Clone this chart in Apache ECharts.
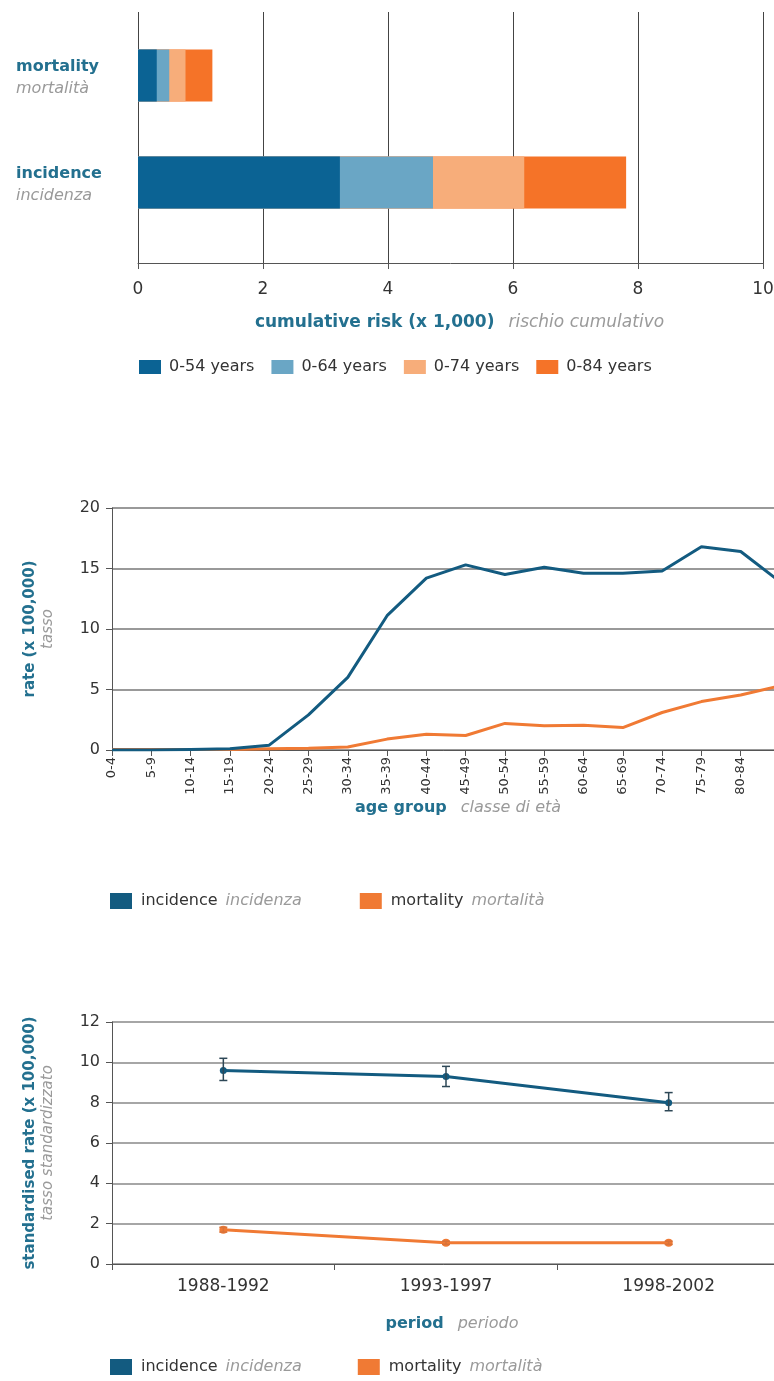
<!DOCTYPE html>
<html>
<head>
<meta charset="utf-8">
<script src="https://cdn.jsdelivr.net/npm/echarts@6/dist/echarts.min.js"></script>
<style>
html,body{margin:0;padding:0;background:#fff;overflow:hidden;}
#c{width:774px;height:1381px;}
</style>
</head>
<body>
<div id="c"></div>
<script>
// ---- Chart 1: cumulative risk ----
const riskCategories = ['mortality', 'incidence'];
const riskCategoriesIt = ['mortalità', 'incidenza'];
const riskSeriesNames = ['0-54 years', '0-64 years', '0-74 years', '0-84 years'];
const risk054 = [0.30, 3.23];
const risk064 = [0.50, 4.72];
const risk074 = [0.76, 6.18];
const risk084 = [1.19, 7.81];
const riskTicks = [0, 2, 4, 6, 8, 10];

// ---- Chart 2: age-specific rates ----
const ageGroups = ['0-4','5-9','10-14','15-19','20-24','25-29','30-34','35-39','40-44','45-49','50-54','55-59','60-64','65-69','70-74','75-79','80-84','85+'];
const ageIncidence = [0.0, 0.0, 0.05, 0.1, 0.4, 2.9, 6.0, 11.1, 14.2, 15.3, 14.5, 15.1, 14.6, 14.6, 14.8, 16.8, 16.4, 13.9];
const ageMortality = [0.05, 0.05, 0.05, 0.05, 0.1, 0.15, 0.25, 0.9, 1.3, 1.2, 2.2, 2.0, 2.05, 1.85, 3.1, 4.0, 4.55, 5.3];

// ---- Chart 3: standardised rates by period ----
const periods = ['1988-1992', '1993-1997', '1998-2002'];
const periodIncidence = [9.6, 9.3, 8.0];
const periodIncidenceLow = [9.1, 8.8, 7.6];
const periodIncidenceHigh = [10.2, 9.8, 8.5];
const periodMortality = [1.7, 1.05, 1.05];
const periodMortalityLow = [1.58, 0.97, 0.97];
const periodMortalityHigh = [1.82, 1.13, 1.13];

const C_DARK = '#0b6394';
const C_LBLUE = '#6aa6c5';
const C_LORANGE = '#f7ad7a';
const C_ORANGE = '#f57328';
const C_INC = '#135b80';
const C_MORT = '#f07a34';
const BLUE_TXT = '#23708f';
const GREY_TXT = '#9a9a9a';
const FONT = '"DejaVu Sans", "Liberation Sans", sans-serif';

function nameRich(size) {
  return {
    a: {color: BLUE_TXT, fontWeight: 'bold', fontSize: size, fontFamily: FONT},
    s: {width: 14},
    b: {color: GREY_TXT, fontStyle: 'italic', fontSize: size, fontFamily: FONT}
  };
}
const legendRich = {
  a: {color: '#333', fontSize: 16, fontFamily: FONT},
  s: {width: 8},
  b: {color: GREY_TXT, fontStyle: 'italic', fontSize: 16, fontFamily: FONT}
};
const yNameRich = {
  a: {color: BLUE_TXT, fontWeight: 'bold', fontSize: 15, lineHeight: 18, fontFamily: FONT},
  b: {color: GREY_TXT, fontStyle: 'italic', fontSize: 15, lineHeight: 18, fontFamily: FONT}
};

function errRender(color) {
  return function (params, api) {
    const x = api.value(0);
    const lo = api.coord([x, api.value(1)]);
    const hi = api.coord([x, api.value(2)]);
    const w = 4;
    const style = {stroke: color, lineWidth: 1.5};
    return {
      type: 'group',
      children: [
        {type: 'line', shape: {x1: lo[0], y1: lo[1], x2: hi[0], y2: hi[1]}, style: style},
        {type: 'line', shape: {x1: lo[0] - w, y1: lo[1], x2: lo[0] + w, y2: lo[1]}, style: style},
        {type: 'line', shape: {x1: hi[0] - w, y1: hi[1], x2: hi[0] + w, y2: hi[1]}, style: style}
      ]
    };
  };
}

const riskColors = [C_DARK, C_LBLUE, C_LORANGE, C_ORANGE];
const riskData = [risk054, risk064, risk074, risk084];

const barSeries = [];
for (let i = riskData.length - 1; i >= 0; i--) {
  barSeries.push({
    name: riskSeriesNames[i],
    type: 'bar',
    xAxisIndex: 1,
    yAxisIndex: 1,
    barWidth: 52,
    barGap: '-100%',
    itemStyle: {color: riskColors[i]},
    data: riskData[i],
    z: 10 + (riskData.length - i)
  });
}

function legendFmt(n) {
  return n === 'incidence' ? '{a|incidence}{s|}{b|incidenza}' : '{a|mortality}{s|}{b|mortalità}';
}

const option = {
  animation: false,
  backgroundColor: '#fff',
  textStyle: {fontFamily: FONT},
  grid: [
    {left: 138, right: 11, top: 12, height: 251, outerBoundsMode: 'none', containLabel: false},
    {left: 138, right: 11, top: 22, height: 214, outerBoundsMode: 'none', containLabel: false},
    {left: 112, width: 668, top: 508, height: 242, outerBoundsMode: 'none', containLabel: false},
    {left: 112, width: 668, top: 1022, height: 242, outerBoundsMode: 'none', containLabel: false}
  ],
  legend: [
    {
      data: riskSeriesNames,
      left: 139, top: 359, padding: 0,
      icon: 'rect', itemWidth: 22, itemHeight: 14, itemGap: 17,
      textStyle: {color: '#333', fontSize: 16, fontFamily: FONT, padding: [0, 0, 0, 3]},
      selectedMode: false
    },
    {
      data: ['incidence', 'mortality'],
      left: 110, top: 893, padding: 0,
      icon: 'rect', itemWidth: 22, itemHeight: 16, itemGap: 58,
      formatter: legendFmt,
      textStyle: {rich: legendRich, padding: [0, 0, 0, 4]},
      selectedMode: false
    },
    {
      data: ['incidence', 'mortality'],
      left: 110, top: 1359, padding: 0,
      icon: 'rect', itemWidth: 22, itemHeight: 16, itemGap: 56,
      formatter: legendFmt,
      textStyle: {rich: legendRich, padding: [0, 0, 0, 4]},
      selectedMode: false
    }
  ],
  xAxis: [
    {
      gridIndex: 0, type: 'value', min: riskTicks[0], max: riskTicks[riskTicks.length - 1], interval: 2,
      axisLine: {show: true, lineStyle: {color: '#555', width: 1}},
      axisTick: {show: true, length: 6, lineStyle: {color: '#555'}},
      splitLine: {show: true, lineStyle: {color: '#444', width: 1}},
      axisLabel: {color: '#333', fontSize: 17, margin: 18},
      name: '{a|cumulative risk (x 1,000)}{s|}{b|rischio cumulativo}',
      nameLocation: 'middle', nameGap: 51,
      nameTextStyle: {rich: nameRich(17), padding: [0, 0, 0, 18]}
    },
    {
      gridIndex: 1, type: 'value', min: riskTicks[0], max: riskTicks[riskTicks.length - 1], show: false
    },
    {
      gridIndex: 2, type: 'category', data: ageGroups, boundaryGap: false,
      axisLine: {show: true, lineStyle: {color: '#555', width: 1}},
      axisTick: {show: true, length: 6, lineStyle: {color: '#555'}},
      splitLine: {show: false},
      axisLabel: {color: '#333', fontSize: 13, rotate: 90, margin: 7, interval: 0},
      name: '{a|age group}{s|}{b|classe di età}',
      nameLocation: 'middle', nameGap: 50,
      nameTextStyle: {rich: nameRich(16), padding: [0, 0, 0, 24]}
    },
    {
      gridIndex: 3, type: 'category', data: periods, boundaryGap: true,
      axisLine: {show: true, lineStyle: {color: '#555', width: 1}},
      axisTick: {show: true, length: 6, lineStyle: {color: '#555'}},
      splitLine: {show: false},
      axisLabel: {color: '#333', fontSize: 17, margin: 14},
      name: '{a|period}{s|}{b|periodo}',
      nameLocation: 'middle', nameGap: 52,
      nameTextStyle: {rich: nameRich(16), padding: [0, 0, 0, 12]}
    }
  ],
  yAxis: [
    {gridIndex: 0, type: 'value', show: false},
    {
      gridIndex: 1, type: 'category', data: riskCategories, inverse: true,
      axisLine: {show: false}, axisTick: {show: false}, splitLine: {show: false},
      axisLabel: {
        align: 'left', margin: 122, padding: [5, 0, 0, 0],
        formatter: function (v, i) { return '{a|' + v + '}\n{b|' + riskCategoriesIt[i] + '}'; },
        rich: {
          a: {color: BLUE_TXT, fontWeight: 'bold', fontSize: 16, lineHeight: 22, fontFamily: FONT},
          b: {color: GREY_TXT, fontStyle: 'italic', fontSize: 16, lineHeight: 22, fontFamily: FONT}
        }
      }
    },
    {
      gridIndex: 2, type: 'value', min: 0, max: 20, interval: 5,
      axisLine: {show: true, lineStyle: {color: '#555', width: 1}},
      axisTick: {show: true, length: 6, lineStyle: {color: '#555'}},
      splitLine: {show: true, lineStyle: {color: '#777', width: 1.5}},
      axisLabel: {color: '#333', fontSize: 16, margin: 12},
      name: '{a|rate (x 100,000)}\n{b|tasso}',
      nameLocation: 'middle', nameGap: 55,
      nameTextStyle: {rich: yNameRich}
    },
    {
      gridIndex: 3, type: 'value', min: 0, max: 12, interval: 2,
      axisLine: {show: true, lineStyle: {color: '#555', width: 1}},
      axisTick: {show: true, length: 6, lineStyle: {color: '#555'}},
      splitLine: {show: true, lineStyle: {color: '#888', width: 1.5}},
      axisLabel: {color: '#333', fontSize: 16, margin: 12},
      name: '{a|standardised rate (x 100,000)}\n{b|tasso standardizzato}',
      nameLocation: 'middle', nameGap: 55,
      nameTextStyle: {rich: yNameRich}
    }
  ],
  series: barSeries.concat([
    {
      name: 'incidence', type: 'line', xAxisIndex: 2, yAxisIndex: 2,
      data: ageIncidence, showSymbol: false, symbol: 'none',
      lineStyle: {color: C_INC, width: 3}, itemStyle: {color: C_INC}, z: 5
    },
    {
      name: 'mortality', type: 'line', xAxisIndex: 2, yAxisIndex: 2,
      data: ageMortality, showSymbol: false, symbol: 'none',
      lineStyle: {color: C_MORT, width: 3}, itemStyle: {color: C_MORT}, z: 4
    },
    {
      name: 'incidence', type: 'line', xAxisIndex: 3, yAxisIndex: 3,
      data: periodIncidence, symbol: 'circle', symbolSize: 7,
      lineStyle: {color: C_INC, width: 3}, itemStyle: {color: C_INC}, z: 5
    },
    {
      name: 'mortality', type: 'line', xAxisIndex: 3, yAxisIndex: 3,
      data: periodMortality, symbol: 'circle', symbolSize: 8,
      lineStyle: {color: C_MORT, width: 3}, itemStyle: {color: C_MORT}, z: 4
    },
    {
      name: 'incErr', type: 'custom', xAxisIndex: 3, yAxisIndex: 3,
      renderItem: errRender('#2d4756'),
      encode: {x: 0, y: [1, 2]},
      data: periods.map(function (p, i) { return [i, periodIncidenceLow[i], periodIncidenceHigh[i]]; }),
      z: 6
    },
    {
      name: 'mortErr', type: 'custom', xAxisIndex: 3, yAxisIndex: 3,
      renderItem: errRender('#d8733a'),
      encode: {x: 0, y: [1, 2]},
      data: periods.map(function (p, i) { return [i, periodMortalityLow[i], periodMortalityHigh[i]]; }),
      z: 6
    }
  ])
};

const chart = echarts.init(document.getElementById('c'), null, {renderer: 'canvas'});
chart.setOption(option);
</script>
</body>
</html>
